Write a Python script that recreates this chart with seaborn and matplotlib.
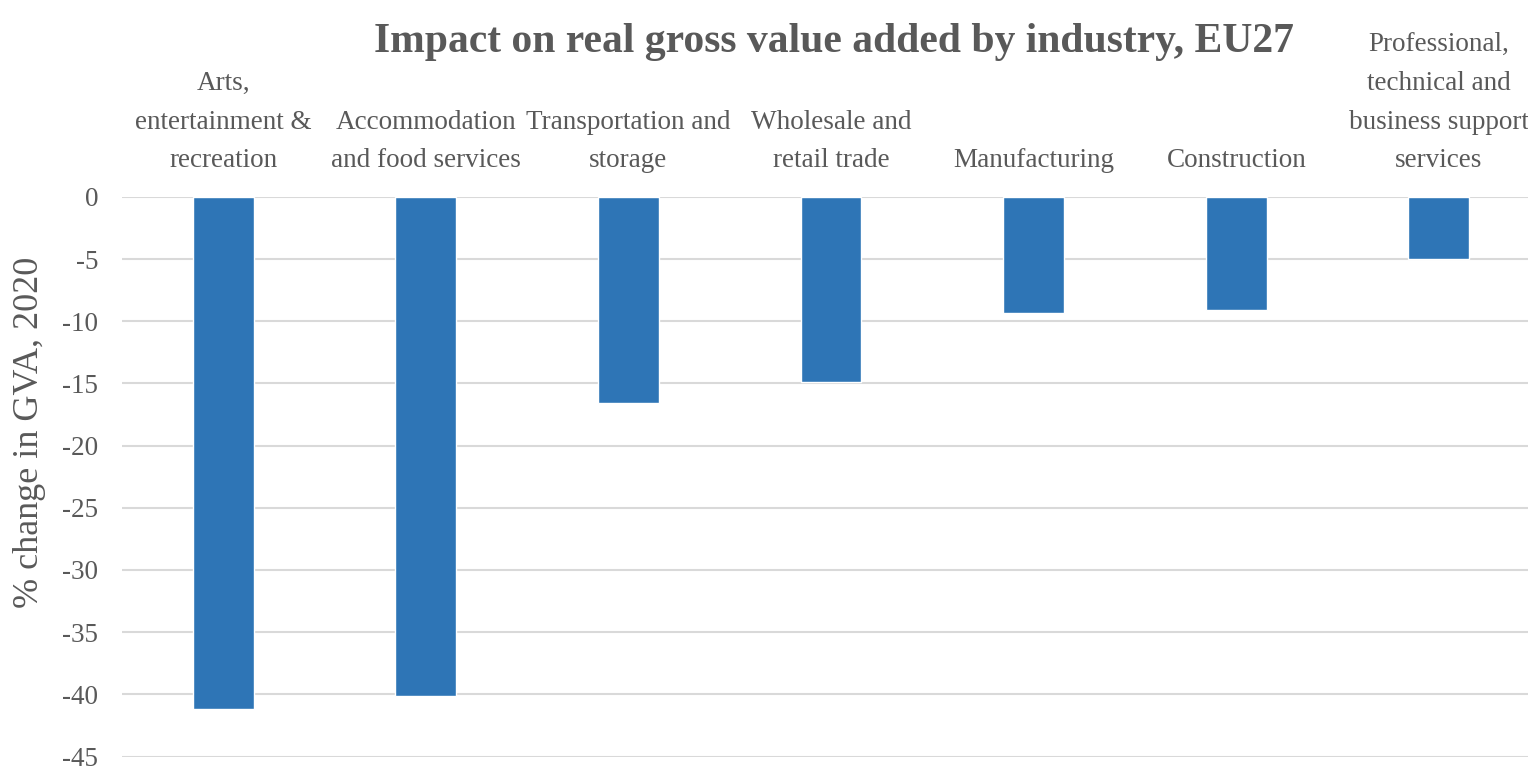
import seaborn as sns
import pandas as pd
import matplotlib.pyplot as plt

# data
industries = ['Arts,\nentertainment &\nrecreation',
              'Accommodation\nand food services',
              'Transportation and\nstorage',
              'Wholesale and\nretail trade',
              'Manufacturing',
              'Construction',
              'Professional,\ntechnical and\nbusiness support\nservices']
gva_change = [-41.2, -40.1, -16.6, -14.9, -9.3, -9.1, -5.0]
y_ticks = [0, -5, -10, -15, -20, -25, -30, -35, -40, -45]

df = pd.DataFrame({'industry': industries, 'change': gva_change})

sns.set_theme(style='white')
plt.rcParams['font.family'] = ['Liberation Serif', 'DejaVu Serif']
grey = '#595959'

fig = plt.figure(figsize=(15.28, 7.72), dpi=100)
ax = fig.add_axes([0.0798, 0.02, 0.9202, 0.725])

sns.barplot(data=df, x='industry', y='change', color='#2E75B6',
            saturation=1, width=0.3, ax=ax, zorder=3)

ax.set_ylim(-45, 0)
ax.set_xlim(-0.5, 6.44)
ax.set_yticks(y_ticks)
ax.set_yticklabels([str(t) for t in y_ticks])
ax.yaxis.grid(True, color='#D9D9D9', linewidth=1.5, zorder=0)
ax.set_axisbelow(True)
for s in ax.spines.values():
    s.set_visible(False)

ax.xaxis.tick_top()
ax.tick_params(axis='x', length=0, pad=17, labelsize=19.5, labelcolor=grey)
ax.tick_params(axis='y', length=0, pad=17, labelsize=19.5, labelcolor=grey)
for lbl in ax.get_xticklabels():
    lbl.set_linespacing(1.72)
    lbl.set_verticalalignment('bottom')
ax.set_xlabel('')
ax.set_ylabel('% change in GVA, 2020', fontsize=26, color=grey)
ax.yaxis.set_label_coords(-0.054, 0.58)

fig.text(0.546, 1 - 42 / 772, 'Impact on real gross value added by industry, EU27',
         ha='center', va='center', fontsize=30, fontweight='bold', color=grey)

fig.savefig('out.png', dpi=100)
